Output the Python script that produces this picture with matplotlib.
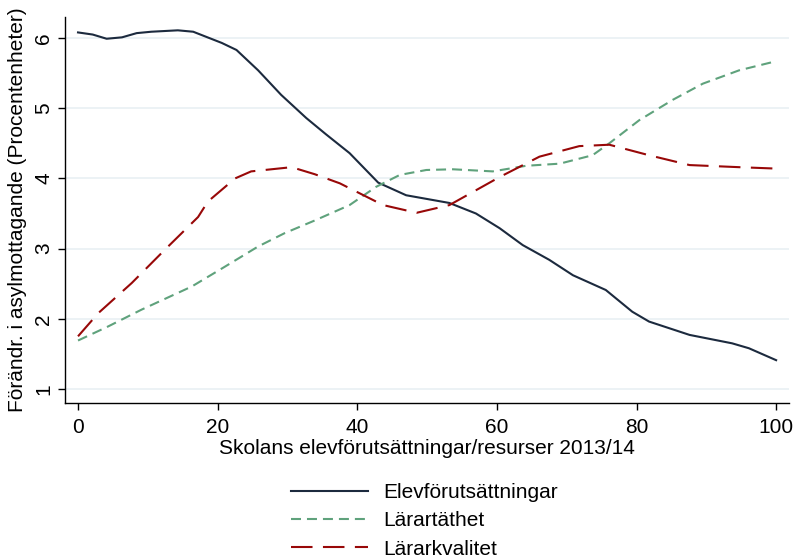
import numpy as np
import matplotlib
matplotlib.use("Agg")
import matplotlib.pyplot as plt

plt.rcParams['font.family'] = ['Liberation Sans', 'DejaVu Sans']
plt.rcParams['lines.scale_dashes'] = False

## Data

elev_x = [0, 2.1, 4.1, 6.3, 8.4, 10.5, 14.3, 16.5, 20.6, 22.7, 25.8, 29.1, 32.7,
          35.5, 38.9, 43.0, 47.0, 53.2, 57.0, 60.4, 63.7, 67.5, 70.9, 75.6,
          79.4, 81.8, 87.6, 93.7, 96.1, 100]
elev_y = [6.08, 6.05, 5.99, 6.01, 6.07, 6.09, 6.11, 6.09, 5.93, 5.83, 5.54, 5.19, 4.86,
          4.63, 4.36, 3.94, 3.76, 3.65, 3.50, 3.29, 3.05, 2.84, 2.62, 2.41,
          2.10, 1.96, 1.77, 1.65, 1.58, 1.41]

tath_x = [0, 4.3, 9.1, 16.3, 21.0, 25.8, 29.6, 33.9, 38.9, 42.7, 46.1, 49.9, 53.7,
          59.4, 64.2, 69.0, 73.7, 76.1, 80.4, 85.2, 89.5, 94.7, 100]
tath_y = [1.69, 1.89, 2.13, 2.46, 2.74, 3.03, 3.22, 3.40, 3.62, 3.88, 4.05, 4.12, 4.13,
          4.10, 4.18, 4.21, 4.33, 4.50, 4.83, 5.12, 5.35, 5.54, 5.67]

kval_x = [0, 2.9, 7.7, 12.4, 17.2, 18.6, 22.5, 24.8, 30.6, 33.9, 37.5, 43.7, 48.5,
          53.2, 60.4, 66.1, 71.8, 76.1, 81.8, 87.6, 94.7, 100]
kval_y = [1.75, 2.08, 2.51, 2.98, 3.45, 3.67, 4.00, 4.10, 4.16, 4.06, 3.93, 3.62, 3.51,
          3.62, 4.02, 4.31, 4.46, 4.48, 4.33, 4.19, 4.16, 4.14]

labels = ["Elevförutsättningar", "Lärartäthet", "Lärarkvalitet"]

## Plot

fig = plt.figure(figsize=(7.96, 5.57), dpi=100)
ax = fig.add_axes([0.0817, 0.2765, 0.910, 0.693])

ax.plot(elev_x, elev_y, color="#1c2a3e", lw=1.5, label=labels[0])
ax.plot(tath_x, tath_y, color="#5fa27c", lw=1.5, ls=(0, (7.2, 4.3)), label=labels[1])
ax.plot(kval_x, kval_y, color="#980808", lw=1.5, ls=(0, (15.5, 7.5)), label=labels[2])

ax.set_xlim(-1.86, 101.9)
ax.set_ylim(0.8, 6.3)
ax.set_xticks([0, 20, 40, 60, 80, 100])
ax.set_yticks([1, 2, 3, 4, 5, 6])
ax.grid(axis="y", color="#e9f0f3", lw=1.2)
ax.set_axisbelow(True)
for s in ["top", "right"]:
    ax.spines[s].set_visible(False)
for s in ["left", "bottom"]:
    ax.spines[s].set_color("black")
    ax.spines[s].set_linewidth(1.0)
ax.tick_params(axis="both", direction="out", length=5, width=1, labelsize=15)
ax.tick_params(axis="x", pad=6)
plt.setp(ax.get_yticklabels(), rotation=90, va="center")

ax.set_xlabel("Skolans elevförutsättningar/resurser 2013/14", fontsize=15, labelpad=1)
ax.set_ylabel("Förändr. i asylmottagande (Procentenheter)", fontsize=15, labelpad=5)

fig.legend(loc="upper center", bbox_to_anchor=(0.533, 0.148), frameon=False,
           fontsize=15, handlelength=3.7, handletextpad=0.72, labelspacing=0.45,
           borderaxespad=0)

fig.savefig("out.png", dpi=100)
